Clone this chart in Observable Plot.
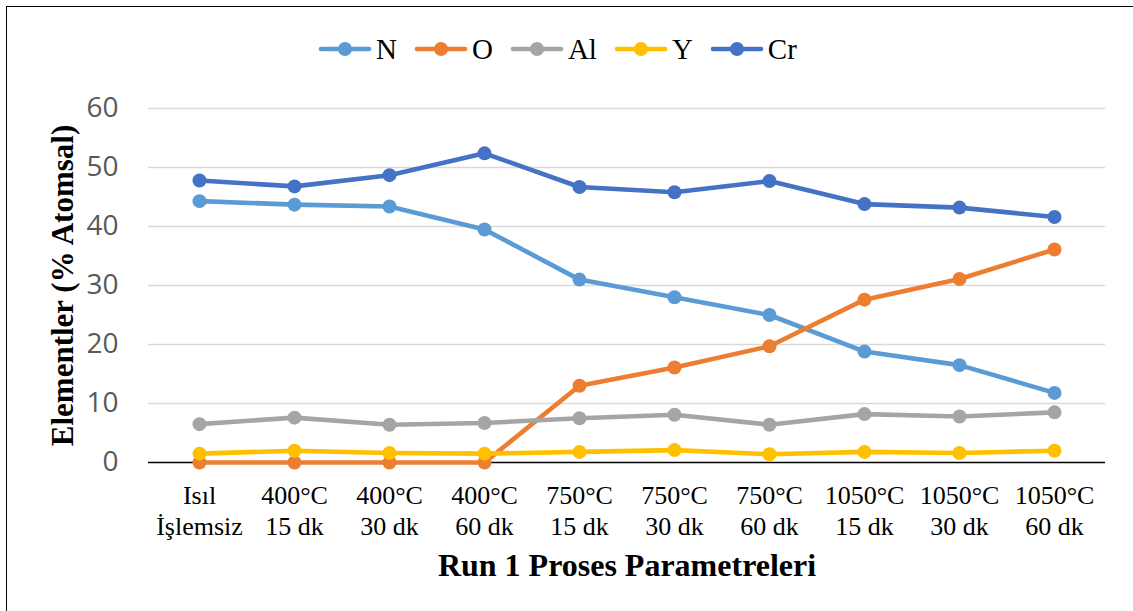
<!DOCTYPE html>
<html>
<head>
<meta charset="utf-8">
<script src="https://cdn.jsdelivr.net/npm/d3@7"></script>
<script src="https://cdn.jsdelivr.net/npm/@observablehq/plot@0.6"></script>
<style>
  html, body { margin: 0; padding: 0; background: #fff; overflow: hidden; }
  #wrap { position: relative; width: 1133px; height: 611px; }
  #frame { position: absolute; left: 6px; top: 6px; width: 1127px; height: 605px;
           border-top: 1.6px solid #000; border-left: 1.6px solid #000; box-sizing: border-box; }
  #legend { position: absolute; left: 318px; top: 30px; height: 38px;
            display: flex; justify-content: flex-start; align-items: center;
            font-family: "Liberation Serif", "Times New Roman", serif; font-size: 29px; color: #000; }
  .item { display: flex; align-items: center; margin-right: 17px; }
  .item svg { margin-right: 4px; }
  #chart { position: absolute; left: 0; top: 0; }
</style>
</head>
<body>
<div id="wrap">
  <div id="frame"></div>
  <div id="chart"></div>
  <div id="legend"></div>
</div>
<script>
const categories = ["Isıl\nİşlemsiz", "400°C\n15 dk", "400°C\n30 dk", "400°C\n60 dk", "750°C\n15 dk",
                    "750°C\n30 dk", "750°C\n60 dk", "1050°C\n15 dk", "1050°C\n30 dk", "1050°C\n60 dk"];
const N  = [44.3, 43.7, 43.4, 39.5, 31.0, 28.0, 25.0, 18.8, 16.5, 11.8];
const O  = [0, 0, 0, 0, 13.0, 16.1, 19.7, 27.6, 31.1, 36.1];
const Al = [6.5, 7.6, 6.4, 6.7, 7.5, 8.1, 6.4, 8.2, 7.8, 8.5];
const Y  = [1.5, 2.0, 1.6, 1.5, 1.8, 2.1, 1.4, 1.8, 1.6, 2.0];
const Cr = [47.8, 46.8, 48.7, 52.4, 46.7, 45.8, 47.7, 43.8, 43.2, 41.6];
const seriesNames = ["N", "O", "Al", "Y", "Cr"];
const seriesValues = [N, O, Al, Y, Cr];
const seriesColors = ["#5B9BD5", "#ED7D31", "#A5A5A5", "#FFC000", "#4472C4"];
const yTicks = [0, 10, 20, 30, 40, 50, 60];
const yTitle = "Elementler (% Atomsal)";
const xTitle = "Run 1 Proses Parametreleri";

const serif = "'Liberation Serif', 'Times New Roman', serif";

const seriesMarks = seriesNames.flatMap((name, i) => {
  const rows = categories.map((c, j) => ({cat: c, value: seriesValues[i][j], series: name}));
  return [
    Plot.line(rows, {x: "cat", y: "value", stroke: seriesColors[i], strokeWidth: 4.6,
                     strokeLinejoin: "round", strokeLinecap: "round"}),
    Plot.dot(rows, {x: "cat", y: "value", r: 7, fill: seriesColors[i], stroke: "none"})
  ];
});

const chart = Plot.plot({
  width: 1133,
  height: 611,
  marginTop: 108,
  marginBottom: 149,
  marginLeft: 148,
  marginRight: 28,
  style: {background: "transparent", fontFamily: serif},
  x: {type: "point", domain: categories, padding: 0.5},
  y: {domain: [0, 60]},
  marks: [
    Plot.gridY(yTicks.filter(d => d > 0), {stroke: "#D9D9D9", strokeOpacity: 1, strokeWidth: 1.3}),
    Plot.ruleY([0], {stroke: "#000", strokeWidth: 1.6}),
    Plot.axisY(yTicks, {tickSize: 0, tickPadding: 30, fontSize: 28, fill: "#595959",
                        fontFamily: "'Open Sans', sans-serif", label: null}),
    Plot.axisY({ticks: [], tickSize: 0, label: yTitle, labelArrow: "none", labelAnchor: "center", labelOffset: 98,
                fontSize: 31, fontWeight: "bold", fontFamily: serif, fill: "#000"}),
    Plot.axisX({tickSize: 0, tickPadding: 20, fontSize: 26, lineHeight: 1.17, fill: "#000",
                fontFamily: serif, label: null}),
    Plot.axisX({ticks: [], tickSize: 0, label: xTitle, labelArrow: "none", labelAnchor: "center", labelOffset: 113,
                fontSize: 32, fontWeight: "bold", fontFamily: serif, fill: "#000"}),
    ...seriesMarks
  ]
});
document.getElementById("chart").appendChild(chart);

const legend = document.getElementById("legend");
seriesNames.forEach((name, i) => {
  const item = document.createElement("div");
  item.className = "item";
  item.innerHTML = `<svg width="54" height="16"><line x1="3" y1="8" x2="51" y2="8" stroke="${seriesColors[i]}" stroke-width="4.6" stroke-linecap="round"/><circle cx="27" cy="8" r="7" fill="${seriesColors[i]}"/></svg><span>${name}</span>`;
  legend.appendChild(item);
});
</script>
</body>
</html>
